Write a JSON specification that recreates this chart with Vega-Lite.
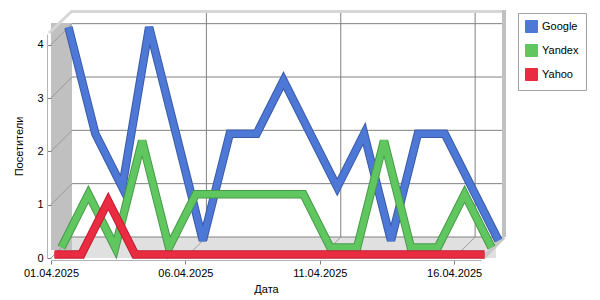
{
  "$schema": "https://vega.github.io/schema/vega-lite/v6.json",
  "width": 430,
  "height": 224,
  "autosize": {"type": "none"},
  "padding": {"left": 51, "top": 34, "right": 119, "bottom": 42},
  "background": "white",
  "config": {"view": {"stroke": null}, "font": "Liberation Sans"},
  "datasets": {
    "visits": [
      {"date": "01.04.2025", "engine": "Google", "value": 4},
      {"date": "02.04.2025", "engine": "Google", "value": 2},
      {"date": "03.04.2025", "engine": "Google", "value": 1},
      {"date": "04.04.2025", "engine": "Google", "value": 4},
      {"date": "05.04.2025", "engine": "Google", "value": 2},
      {"date": "06.04.2025", "engine": "Google", "value": 0},
      {"date": "07.04.2025", "engine": "Google", "value": 2},
      {"date": "08.04.2025", "engine": "Google", "value": 2},
      {"date": "09.04.2025", "engine": "Google", "value": 3},
      {"date": "10.04.2025", "engine": "Google", "value": 2},
      {"date": "11.04.2025", "engine": "Google", "value": 1},
      {"date": "12.04.2025", "engine": "Google", "value": 2},
      {"date": "13.04.2025", "engine": "Google", "value": 0},
      {"date": "14.04.2025", "engine": "Google", "value": 2},
      {"date": "15.04.2025", "engine": "Google", "value": 2},
      {"date": "16.04.2025", "engine": "Google", "value": 1},
      {"date": "17.04.2025", "engine": "Google", "value": 0},
      {"date": "01.04.2025", "engine": "Yandex", "value": 0},
      {"date": "02.04.2025", "engine": "Yandex", "value": 1},
      {"date": "03.04.2025", "engine": "Yandex", "value": 0},
      {"date": "04.04.2025", "engine": "Yandex", "value": 2},
      {"date": "05.04.2025", "engine": "Yandex", "value": 0},
      {"date": "06.04.2025", "engine": "Yandex", "value": 1},
      {"date": "07.04.2025", "engine": "Yandex", "value": 1},
      {"date": "08.04.2025", "engine": "Yandex", "value": 1},
      {"date": "09.04.2025", "engine": "Yandex", "value": 1},
      {"date": "10.04.2025", "engine": "Yandex", "value": 1},
      {"date": "11.04.2025", "engine": "Yandex", "value": 0},
      {"date": "12.04.2025", "engine": "Yandex", "value": 0},
      {"date": "13.04.2025", "engine": "Yandex", "value": 2},
      {"date": "14.04.2025", "engine": "Yandex", "value": 0},
      {"date": "15.04.2025", "engine": "Yandex", "value": 0},
      {"date": "16.04.2025", "engine": "Yandex", "value": 1},
      {"date": "17.04.2025", "engine": "Yandex", "value": 0},
      {"date": "01.04.2025", "engine": "Yahoo", "value": 0},
      {"date": "02.04.2025", "engine": "Yahoo", "value": 0},
      {"date": "03.04.2025", "engine": "Yahoo", "value": 1},
      {"date": "04.04.2025", "engine": "Yahoo", "value": 0},
      {"date": "05.04.2025", "engine": "Yahoo", "value": 0},
      {"date": "06.04.2025", "engine": "Yahoo", "value": 0},
      {"date": "07.04.2025", "engine": "Yahoo", "value": 0},
      {"date": "08.04.2025", "engine": "Yahoo", "value": 0},
      {"date": "09.04.2025", "engine": "Yahoo", "value": 0},
      {"date": "10.04.2025", "engine": "Yahoo", "value": 0},
      {"date": "11.04.2025", "engine": "Yahoo", "value": 0},
      {"date": "12.04.2025", "engine": "Yahoo", "value": 0},
      {"date": "13.04.2025", "engine": "Yahoo", "value": 0},
      {"date": "14.04.2025", "engine": "Yahoo", "value": 0},
      {"date": "15.04.2025", "engine": "Yahoo", "value": 0},
      {"date": "16.04.2025", "engine": "Yahoo", "value": 0},
      {"date": "17.04.2025", "engine": "Yahoo", "value": 0}
    ],
    "yticks": [{"v": 0}, {"v": 1}, {"v": 2}, {"v": 3}, {"v": 4}],
    "xgrid": [{"d": "06.04.2025"}, {"d": "11.04.2025"}, {"d": "16.04.2025"}]
  },
  "layer": [
    {
      "data": {"values": [{}]},
      "mark": {"type": "rule", "color": "#e0e0e0", "strokeWidth": 21, "strokeCap": "butt", "xOffset": 6, "x2Offset": 15, "yOffset": -10.5},
      "encoding": {
        "x": {"datum": "01.04.2025", "type": "ordinal",
          "scale": {"type": "point", "padding": 0, "domain": ["01.04.2025", "02.04.2025", "03.04.2025", "04.04.2025", "05.04.2025", "06.04.2025", "07.04.2025", "08.04.2025", "09.04.2025", "10.04.2025", "11.04.2025", "12.04.2025", "13.04.2025", "14.04.2025", "15.04.2025", "16.04.2025", "17.04.2025"]},
          "axis": {"title": "Дата", "values": ["01.04.2025", "06.04.2025", "11.04.2025", "16.04.2025"], "labelAngle": 0, "grid": false, "offset": 2, "domainColor": "#b4b4b4", "tickColor": "#808080", "tickSize": 4, "labelFont": "Liberation Sans", "labelFontSize": 11, "labelColor": "#000000", "labelPadding": 3, "labelFlush": false, "labelOverlap": false, "titleFont": "Liberation Sans", "titleFontSize": 11, "titleFontWeight": "normal", "titleColor": "#000000", "titlePadding": 5, "zindex": 1}
        },
        "x2": {"datum": "17.04.2025"},
        "y": {"datum": 0, "type": "quantitative",
          "scale": {"domain": [0, 4.2], "nice": false, "zero": true},
          "axis": {"title": "Посетители", "values": [0, 1, 2, 3, 4], "format": "d", "grid": false, "offset": 4, "domainColor": "#b4b4b4", "tickColor": "#808080", "tickSize": -4, "labelFont": "Liberation Sans", "labelFontSize": 11, "labelColor": "#000000", "labelPadding": 8, "titleFont": "Liberation Sans", "titleFontSize": 11, "titleFontWeight": "normal", "titleColor": "#000000", "titlePadding": 12, "zindex": 1}
        }
      }
    },
    {
      "data": {"values": [{}]},
      "mark": {"type": "rule", "color": "#c0c0c0", "strokeWidth": 21, "strokeCap": "butt", "xOffset": 10.5, "yOffset": -8, "y2Offset": -11},
      "encoding": {
        "x": {"datum": "01.04.2025", "type": "ordinal"},
        "y": {"datum": 0, "type": "quantitative"},
        "y2": {"datum": 4.2}
      }
    },
    {
      "data": {"name": "yticks"},
      "mark": {"type": "rule", "color": "#808080", "strokeWidth": 1, "xOffset": 21, "x2Offset": 21, "yOffset": -21},
      "encoding": {
        "x": {"datum": "01.04.2025", "type": "ordinal"},
        "x2": {"datum": "17.04.2025"},
        "y": {"field": "v", "type": "quantitative"}
      }
    },
    {
      "data": {"name": "xgrid"},
      "mark": {"type": "rule", "color": "#808080", "strokeWidth": 1, "xOffset": 21, "yOffset": -21, "y2Offset": -21},
      "encoding": {
        "x": {"field": "d", "type": "ordinal"},
        "y": {"datum": 0, "type": "quantitative"},
        "y2": {"datum": 4.2}
      }
    },
    {
      "data": {"name": "xgrid"},
      "mark": {"type": "rule", "color": "#9a9a9a", "strokeWidth": 1, "x2Offset": 21, "y2Offset": -21},
      "encoding": {
        "x": {"field": "d", "type": "ordinal"},
        "x2": {"field": "d"},
        "y": {"datum": 0, "type": "quantitative"},
        "y2": {"datum": 0}
      }
    },
    {
      "data": {"name": "yticks"},
      "mark": {"type": "rule", "color": "#9a9a9a", "strokeWidth": 1, "x2Offset": 21, "y2Offset": -21},
      "encoding": {
        "x": {"datum": "01.04.2025", "type": "ordinal"},
        "x2": {"datum": "01.04.2025"},
        "y": {"field": "v", "type": "quantitative"},
        "y2": {"field": "v"}
      }
    },
    {
      "data": {"values": [{}]},
      "mark": {"type": "rule", "color": "#d6d6d6", "strokeWidth": 3, "strokeCap": "butt", "xOffset": 20, "x2Offset": 25, "yOffset": -22.5},
      "encoding": {
        "x": {"datum": "01.04.2025", "type": "ordinal"},
        "x2": {"datum": "17.04.2025"},
        "y": {"datum": 4.2, "type": "quantitative"}
      }
    },
    {
      "data": {"values": [{}]},
      "mark": {"type": "rule", "color": "#d6d6d6", "strokeWidth": 3, "xOffset": -2, "yOffset": -1, "x2Offset": 21, "y2Offset": -23},
      "encoding": {
        "x": {"datum": "01.04.2025", "type": "ordinal"},
        "x2": {"datum": "01.04.2025"},
        "y": {"datum": 4.2, "type": "quantitative"},
        "y2": {"datum": 4.2}
      }
    },
    {
      "data": {"values": [{}]},
      "mark": {"type": "rule", "color": "#c0c0c0", "strokeWidth": 4, "strokeCap": "butt", "xOffset": 23, "yOffset": -21, "y2Offset": -24},
      "encoding": {
        "x": {"datum": "17.04.2025", "type": "ordinal"},
        "y": {"datum": 0, "type": "quantitative"},
        "y2": {"datum": 4.2}
      }
    },
    {
      "data": {"values": [{}]},
      "mark": {"type": "rule", "color": "#c8c8c8", "strokeWidth": 4, "xOffset": 2, "yOffset": 0, "x2Offset": 23, "y2Offset": -21},
      "encoding": {
        "x": {"datum": "17.04.2025", "type": "ordinal"},
        "x2": {"datum": "17.04.2025"},
        "y": {"datum": 0, "type": "quantitative"},
        "y2": {"datum": 0}
      }
    },
    {
      "data": {"name": "visits"},
      "transform": [{"filter": "datum.engine === 'Google'"}],
      "mark": {"type": "line", "color": "#3a5aa8", "strokeWidth": 8.5, "strokeMiterLimit": 4, "xOffset": 17.5, "yOffset": -17.5},
      "encoding": {
        "x": {"field": "date", "type": "ordinal"},
        "y": {"field": "value", "type": "quantitative"}
      }
    },
    {
      "data": {"name": "visits"},
      "transform": [{"filter": "datum.engine === 'Google'"}],
      "mark": {"type": "line", "strokeWidth": 6.5, "strokeMiterLimit": 4, "xOffset": 17.5, "yOffset": -17.5},
      "encoding": {
        "x": {"field": "date", "type": "ordinal"},
        "y": {"field": "value", "type": "quantitative"},
        "color": {
          "field": "engine", "type": "nominal",
          "scale": {"domain": ["Google", "Yandex", "Yahoo"], "range": ["#4d78d6", "#60c660", "#ea2c42"]},
          "legend": {"title": null, "orient": "none", "legendX": 467, "legendY": -21, "symbolType": "square", "symbolSize": 144, "symbolStrokeWidth": 1, "labelFont": "Liberation Sans", "labelFontSize": 11, "labelColor": "#000000", "labelOffset": 4, "rowPadding": 7, "padding": 7, "strokeColor": "#a0a0a0", "fillColor": "#ffffff",
            "encode": {"symbols": {"update": {"fill": {"scale": "color", "field": "value"}, "stroke": {"value": "rgba(0,0,0,0.4)"}, "opacity": {"value": 1}, "fillOpacity": {"value": 1}}}}}
        }
      }
    },
    {
      "data": {"name": "visits"},
      "transform": [{"filter": "datum.engine === 'Yandex'"}],
      "mark": {"type": "line", "color": "#479a47", "strokeWidth": 8.5, "strokeMiterLimit": 4, "xOffset": 10.5, "yOffset": -10.5},
      "encoding": {
        "x": {"field": "date", "type": "ordinal"},
        "y": {"field": "value", "type": "quantitative"}
      }
    },
    {
      "data": {"name": "visits"},
      "transform": [{"filter": "datum.engine === 'Yandex'"}],
      "mark": {"type": "line", "strokeWidth": 6.5, "strokeMiterLimit": 4, "xOffset": 10.5, "yOffset": -10.5},
      "encoding": {
        "x": {"field": "date", "type": "ordinal"},
        "y": {"field": "value", "type": "quantitative"},
        "color": {"field": "engine", "type": "nominal"}
      }
    },
    {
      "data": {"name": "visits"},
      "transform": [{"filter": "datum.engine === 'Yahoo'"}],
      "mark": {"type": "line", "color": "#c01c30", "strokeWidth": 8.5, "strokeMiterLimit": 4, "xOffset": 3.5, "yOffset": -3.5},
      "encoding": {
        "x": {"field": "date", "type": "ordinal"},
        "y": {"field": "value", "type": "quantitative"}
      }
    },
    {
      "data": {"name": "visits"},
      "transform": [{"filter": "datum.engine === 'Yahoo'"}],
      "mark": {"type": "line", "strokeWidth": 6.5, "strokeMiterLimit": 4, "xOffset": 3.5, "yOffset": -3.5},
      "encoding": {
        "x": {"field": "date", "type": "ordinal"},
        "y": {"field": "value", "type": "quantitative"},
        "color": {"field": "engine", "type": "nominal"}
      }
    }
  ]
}
